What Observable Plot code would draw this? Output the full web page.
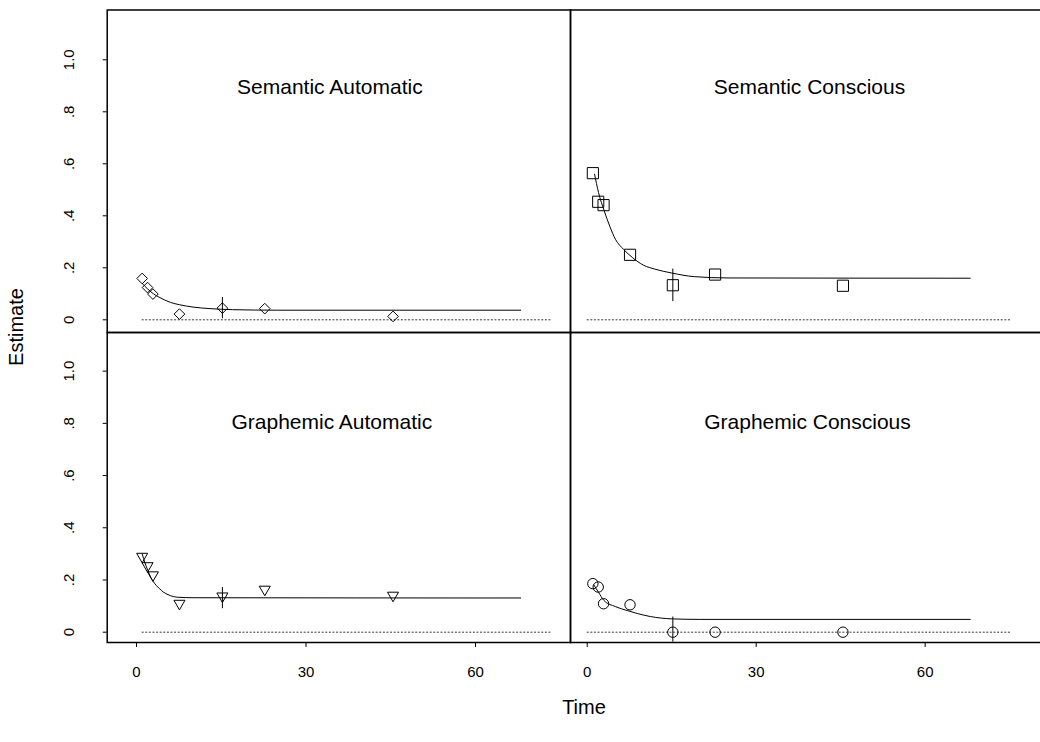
<!DOCTYPE html>
<html>
<head>
<meta charset="utf-8">
<script src="https://cdn.jsdelivr.net/npm/d3@7"></script>
<script src="https://cdn.jsdelivr.net/npm/@observablehq/plot@0.6"></script>
<style>
  html, body { margin: 0; padding: 0; background: #fff; }
  #chart { position: relative; width: 1040px; height: 742px; overflow: hidden; background: #fff;
           font-family: "Liberation Sans", Arial, Helvetica, sans-serif; color: #000; }
  #chart svg { position: absolute; }
  #chart g[aria-label$="tick label"], #chart g[aria-label$="tick label"] text { font-size: 15px !important; font-family: "Liberation Sans", Arial, Helvetica, sans-serif !important; }
  .lab { position: absolute; font-size: 20px; white-space: nowrap; transform: translate(-50%, -50%); }
</style>
</head>
<body>
<div id="chart"></div>
<script>
// ---- data ----
const panelTitles = ["Semantic Automatic", "Semantic Conscious", "Graphemic Automatic", "Graphemic Conscious"];
const times = [1, 1.95, 2.9, 7.6, 15.2, 22.7, 45.4];
const semAuto = [0.159, 0.124, 0.099, 0.022, 0.045, 0.043, 0.013];
const semCon  = [0.564, 0.454, 0.441, 0.25, 0.133, 0.174, 0.131];
const graAuto = [0.29, 0.254, 0.219, 0.11, 0.138, 0.164, 0.141];
const graCon  = [0.186, 0.173, 0.109, 0.105, 0.0, 0.0, 0.0];
// error bars (at the 15-unit observation)
const errTime = 15.2;
const errLo = [0.004, 0.07, 0.09, -0.038];
const errHi = [0.086, 0.195, 0.171, 0.058];
// fitted curves as [time, estimate]
const fitSemAuto = [[1, 0.14], [2, 0.118], [3, 0.1], [4, 0.087], [5, 0.076], [6, 0.067], [7.6, 0.058], [10, 0.049], [13, 0.043], [17, 0.039], [25, 0.037], [68, 0.037]];
const fitSemCon = [[1.3, 0.56], [2, 0.49], [3, 0.42], [4, 0.36], [5, 0.31], [6.5, 0.27], [8, 0.24], [10, 0.21], [12, 0.195], [15, 0.18], [19, 0.166], [25, 0.161], [68, 0.16]];
const fitGraAuto = [[1, 0.30], [1.5, 0.265], [2, 0.237], [2.5, 0.211], [3, 0.193], [4, 0.168], [4.8, 0.153], [6, 0.14], [7.2, 0.134], [10, 0.132], [68, 0.131]];
const fitGraCon = [[1.2, 0.18], [2, 0.153], [2.95, 0.122], [5, 0.098], [7.1, 0.083], [9, 0.071], [11.2, 0.06], [15.1, 0.051], [20, 0.049], [68, 0.049]];
// dotted zero reference line extent (left column, right column)
const zeroFrom = [1, 0];
const zeroTo = [73.6, 75.3];
// ticks
const xTicks = [0, 30, 60];
const yTicks = [0, 0.2, 0.4, 0.6, 0.8, 1.0];
const yTickLabels = ["0", ".2", ".4", ".6", ".8", "1.0"];
const xLabel = "Time";
const yLabel = "Estimate";

// ---- drawing ----
const chart = document.getElementById("chart");
const font = '"Liberation Sans", Arial, Helvetica, sans-serif';

function panel({values, fit, err, title, symbol, r, rotate, col, row, titleDx, titleDy}) {
  const left = col === 0;
  const top = row === 0;
  const svgLeft = left ? 0 : 570;
  const svgTop = top ? 0 : 332;
  const width = left ? 570 : 478;
  const height = top ? 332 : 410;
  const marginLeft = left ? 106.7 : 0;
  const marginTop = top ? 9.5 : 0;
  const marginBottom = top ? 0 : 100;
  const xDomain = left ? [-5.19, 76.81] : [-2.97, 81.9];
  const yDomain = top ? [-0.0488, 1.1915] : [-0.0395, 1.148];
  const pts = times.map((t, i) => ({t, v: values[i]}));
  const marks = [
    Plot.ruleY([{y: 0, a: zeroFrom[col], b: zeroTo[col]}], {y: "y", x1: "a", x2: "b", stroke: "#222", strokeWidth: 0.9, strokeDasharray: "2,1.6"}),
    Plot.line(fit, {curve: "monotone-x", stroke: "#000", strokeWidth: 1}),
    Plot.ruleX([{t: errTime, lo: err[0], hi: err[1]}], {x: "t", y1: "lo", y2: "hi", stroke: "#000", strokeWidth: 1}),
    Plot.dot(pts, {x: "t", y: "v", symbol, r, rotate, stroke: "#000", strokeWidth: 1, fill: "none"}),
    Plot.text([title], {text: d => d, frameAnchor: "top", lineAnchor: "middle", dx: titleDx, dy: titleDy, fontSize: 21, fill: "#000"}),
    Plot.frame({stroke: "#000", strokeWidth: 1.5})
  ];
  if (left) marks.push(Plot.axisY({ticks: yTicks, tickFormat: d => yTickLabels[yTicks.indexOf(d)], tickRotate: -90, tickSize: 4, tickPadding: 29, fontSize: 15, label: null, stroke: "#000"}));
  if (!top) marks.push(Plot.axisX({ticks: xTicks, tickSize: 5, tickPadding: 19, fontSize: 15, label: null, stroke: "#000"}));
  const svg = Plot.plot({
    width, height, marginLeft, marginRight: 0, marginTop, marginBottom,
    x: {domain: xDomain, axis: null},
    y: {domain: yDomain, axis: null},
    style: {background: "transparent", overflow: "visible", fontFamily: font, fontSize: "15px", color: "#000"},
    marks
  });
  svg.style.left = svgLeft + "px";
  svg.style.top = svgTop + "px";
  svg.style.maxWidth = "none";
  chart.appendChild(svg);
}

panel({values: semAuto, fit: fitSemAuto, err: [errLo[0], errHi[0]], title: panelTitles[0], symbol: "diamond2", r: 4.8, rotate: 0, col: 0, row: 0, titleDx: -9, titleDy: 77});
panel({values: semCon, fit: fitSemCon, err: [errLo[1], errHi[1]], title: panelTitles[1], symbol: "square", r: 6.3, rotate: 0, col: 1, row: 0, titleDx: 0, titleDy: 77});
panel({values: graAuto, fit: fitGraAuto, err: [errLo[2], errHi[2]], title: panelTitles[2], symbol: "triangle", r: 4.1, rotate: 180, col: 0, row: 1, titleDx: -7, titleDy: 89.5});
panel({values: graCon, fit: fitGraCon, err: [errLo[3], errHi[3]], title: panelTitles[3], symbol: "circle", r: 5.2, rotate: 0, col: 1, row: 1, titleDx: -2, titleDy: 89.5});

const yl = document.createElement("div");
yl.className = "lab";
yl.textContent = yLabel;
yl.style.left = "16px";
yl.style.top = "327px";
yl.style.transform = "translate(-50%, -50%) rotate(-90deg)";
chart.appendChild(yl);

const xl = document.createElement("div");
xl.className = "lab";
xl.textContent = xLabel;
xl.style.left = "584px";
xl.style.top = "707px";
chart.appendChild(xl);
</script>
</body>
</html>
